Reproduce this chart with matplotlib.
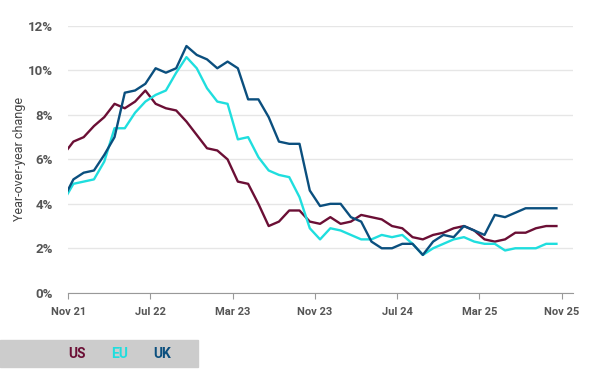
import numpy as np
import matplotlib.pyplot as plt
from matplotlib.patches import Rectangle

plt.rcParams["font.family"] = ["Roboto", "DejaVu Sans"]

# monthly year-over-year inflation, Oct 21 .. Oct 25
months = np.arange(-1, 48)  # 0 = Nov 21
us = [6.2, 6.8, 7.0, 7.5, 7.9, 8.5, 8.3, 8.6, 9.1, 8.5, 8.3, 8.2, 7.7, 7.1, 6.5,
      6.4, 6.0, 5.0, 4.9, 4.0, 3.0, 3.2, 3.7, 3.7, 3.2, 3.1, 3.4,
      3.1, 3.2, 3.5, 3.4, 3.3, 3.0, 2.9, 2.5, 2.4, 2.6, 2.7, 2.9,
      3.0, 2.8, 2.4, 2.3, 2.4, 2.7, 2.7, 2.9, 3.0, 3.0]
eu = [4.1, 4.9, 5.0, 5.1, 5.9, 7.4, 7.4, 8.1, 8.6, 8.9, 9.1, 9.9, 10.6, 10.1, 9.2,
      8.6, 8.5, 6.9, 7.0, 6.1, 5.5, 5.3, 5.2, 4.3, 2.9, 2.4, 2.9,
      2.8, 2.6, 2.4, 2.4, 2.6, 2.5, 2.6, 2.2, 1.7, 2.0, 2.2, 2.4,
      2.5, 2.3, 2.2, 2.2, 1.9, 2.0, 2.0, 2.0, 2.2, 2.2]
uk = [4.2, 5.1, 5.4, 5.5, 6.2, 7.0, 9.0, 9.1, 9.4, 10.1, 9.9, 10.1, 11.1, 10.7, 10.5,
      10.1, 10.4, 10.1, 8.7, 8.7, 7.9, 6.8, 6.7, 6.7, 4.6, 3.9, 4.0,
      4.0, 3.4, 3.2, 2.3, 2.0, 2.0, 2.2, 2.2, 1.7, 2.3, 2.6, 2.5,
      3.0, 2.8, 2.6, 3.5, 3.4, 3.6, 3.8, 3.8, 3.8, 3.8]
tick_pos = [0, 8, 16, 24, 32, 40, 48]
tick_labels = ["Nov 21", "Jul 22", "Mar 23", "Nov 23", "Jul 24", "Mar 25", "Nov 25"]

colors = {"US": "#6b0f35", "EU": "#1fdede", "UK": "#0b4f7e"}

fig = plt.figure(figsize=(6, 3.8), dpi=100)
ax = fig.add_axes([0.1138, 0.2297, 0.841, 0.7018])

x = months + 0.5
ax.plot(x, us, color=colors["US"], lw=1.7, zorder=3)
ax.plot(x, eu, color=colors["EU"], lw=1.7, zorder=3)
ax.plot(x, uk, color=colors["UK"], lw=1.7, zorder=4)

ax.set_xlim(0, 49.1)
ax.set_ylim(0, 12)
ax.set_yticks(range(0, 13, 2))
ax.set_yticklabels([f"{v}%" for v in range(0, 13, 2)])
ax.set_xticks(tick_pos)
ax.set_xticklabels(tick_labels)

ax.grid(axis="y", color="#e6e6e6", lw=1)
ax.set_axisbelow(True)
for s in ["top", "right", "left"]:
    ax.spines[s].set_visible(False)
ax.spines["bottom"].set_color("#999999")
ax.tick_params(axis="y", length=0, pad=11, labelsize=9.5, labelcolor="#555555")
ax.tick_params(axis="x", length=4, color="#999999", pad=6, labelsize=8, labelcolor="#555555")
for lab in ax.get_xticklabels() + ax.get_yticklabels():
    lab.set_fontweight("bold")

ax.set_ylabel("Year-over-year change", fontsize=9, color="#444444")
ax.yaxis.set_label_coords(-0.083, 0.5)

# legend strip
fig.patches.append(Rectangle((0, 1 - 367 / 380), 198 / 600, 27 / 380,
                             transform=fig.transFigure, color="#cccccc", zorder=0))
for name, xp in [("US", 77), ("EU", 120), ("UK", 162)]:
    fig.text(xp / 600, 1 - 354 / 380, name, color=colors[name], fontsize=10,
             fontweight="bold", ha="center", va="center")

fig.savefig("out.png", dpi=100)
